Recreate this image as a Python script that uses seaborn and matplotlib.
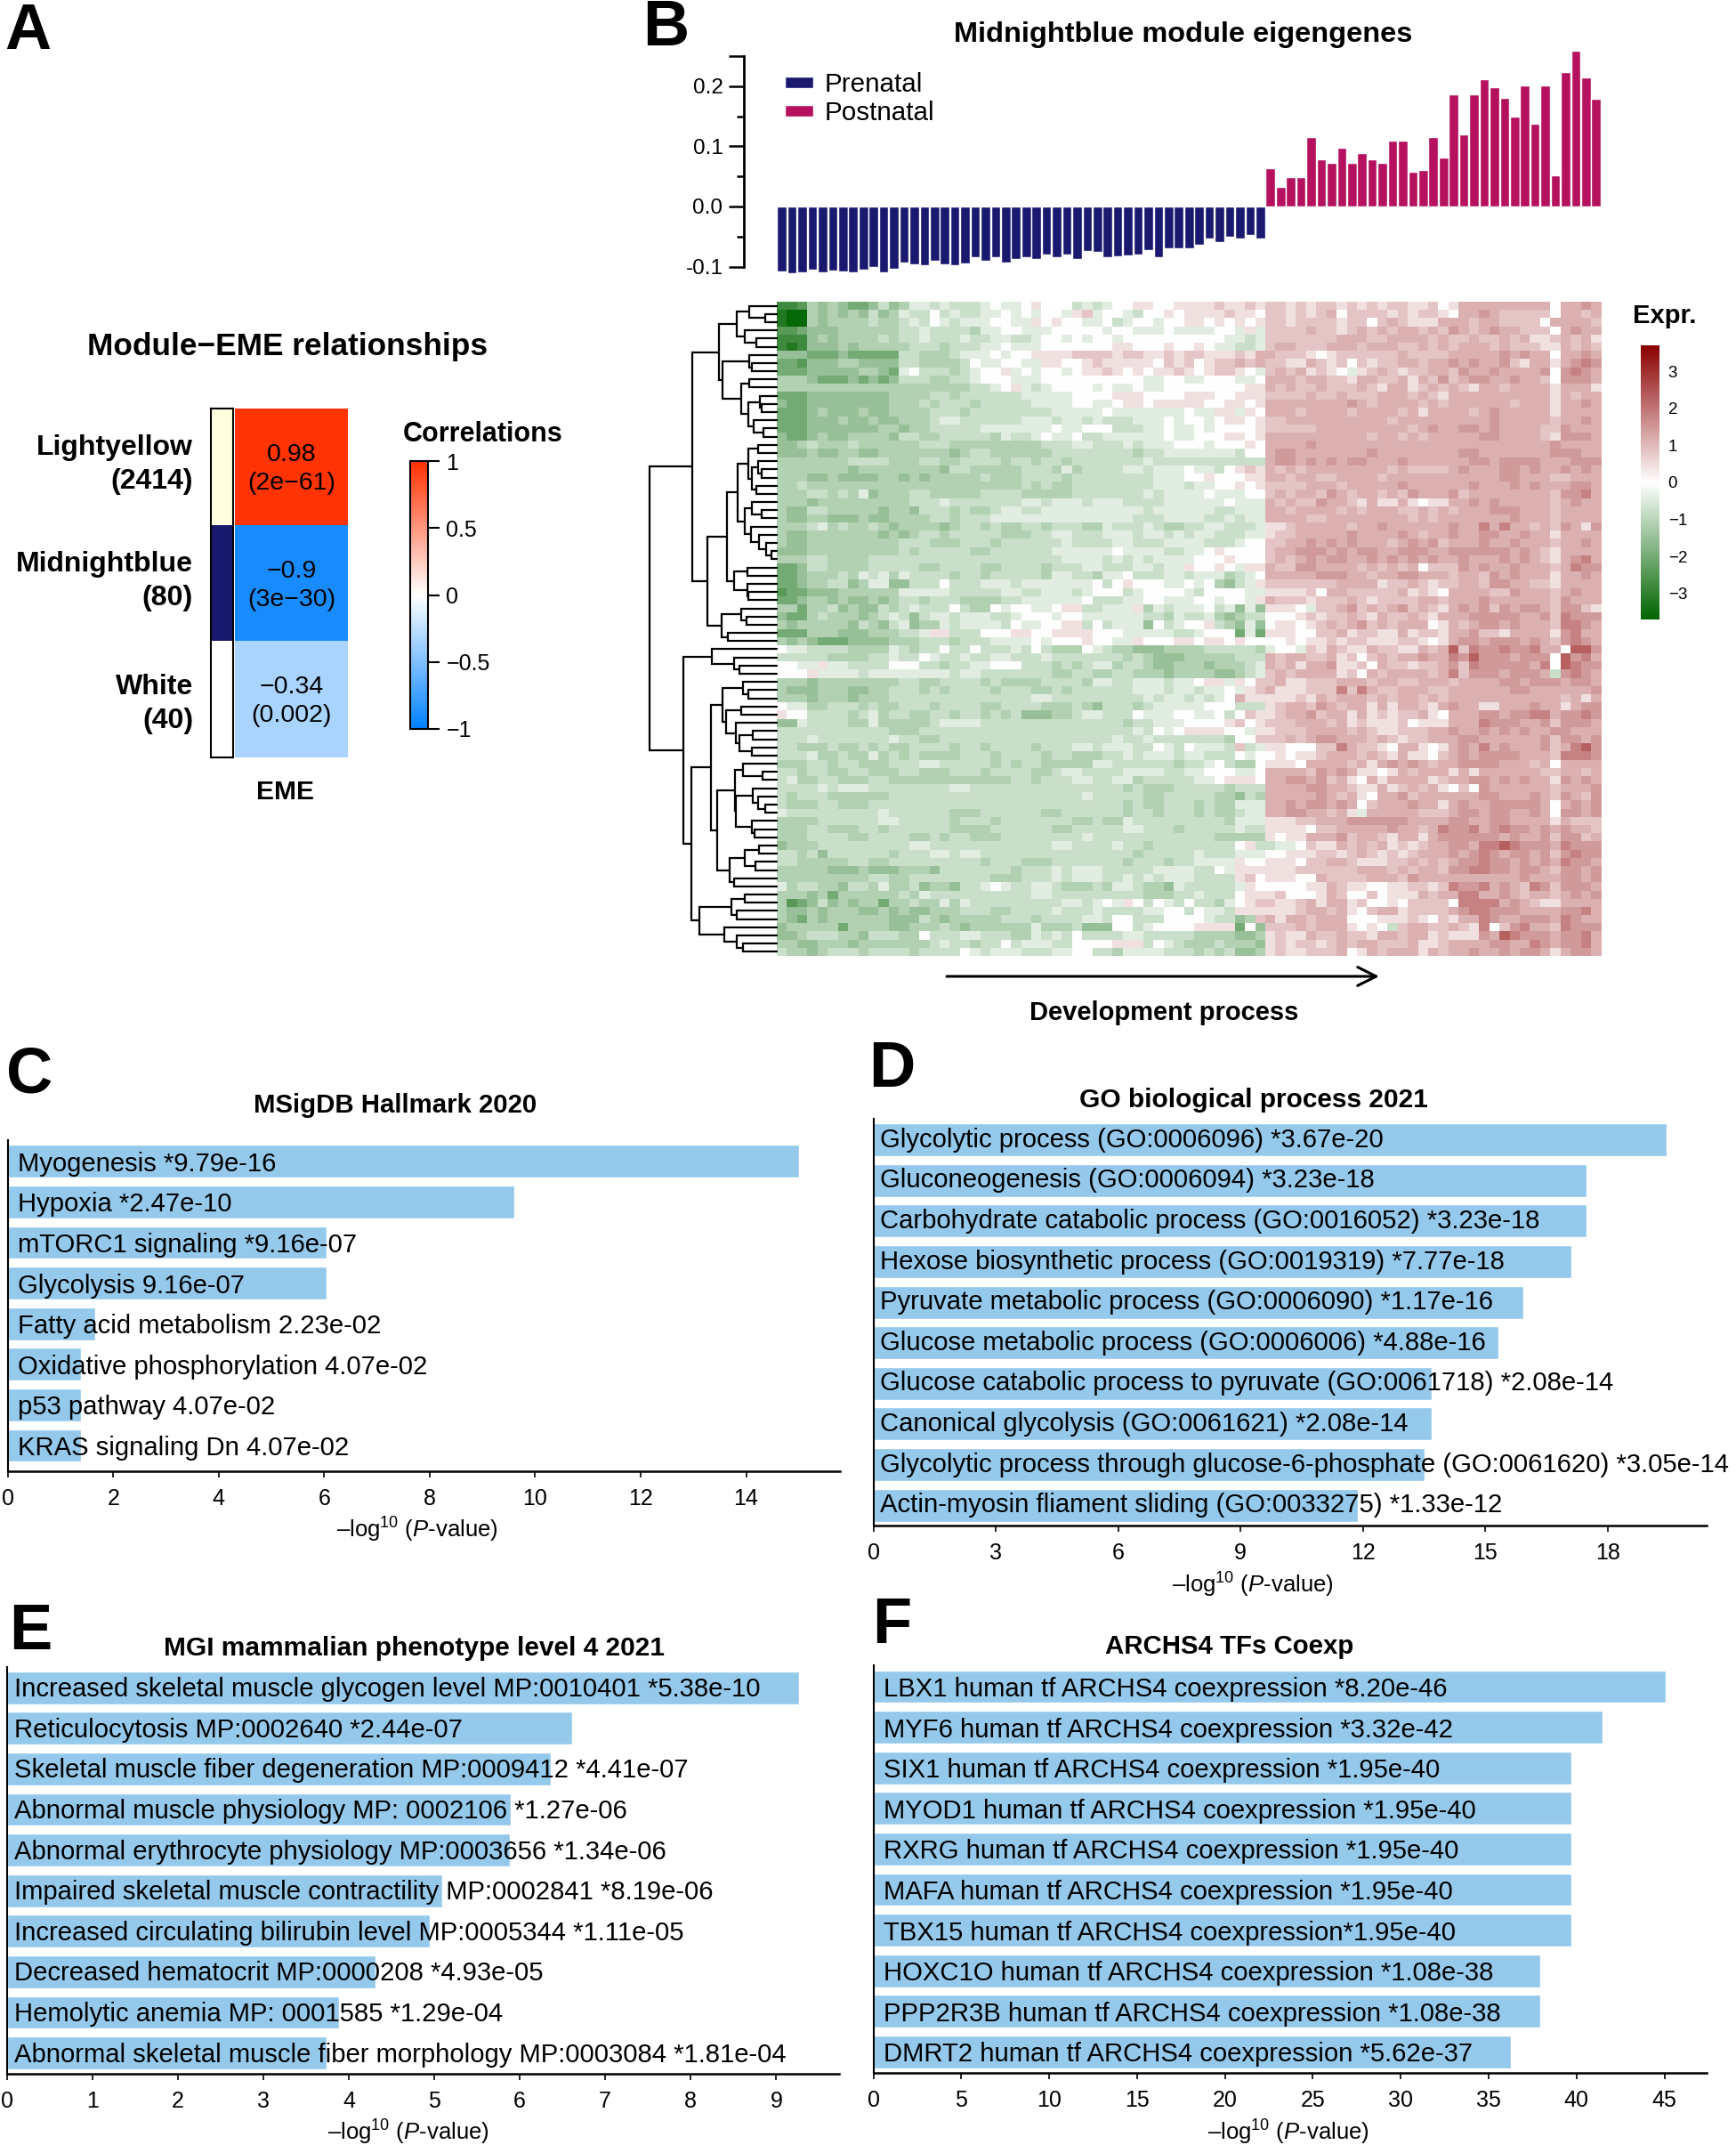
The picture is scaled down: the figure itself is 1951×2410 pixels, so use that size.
import numpy as np
import matplotlib
matplotlib.use('Agg')
import matplotlib.pyplot as plt
from matplotlib.colors import LinearSegmentedColormap, ListedColormap
import seaborn as sns

W, H = 1951, 2410

# Panel A
module_names = ['Lightyellow\n(2414)', 'Midnightblue\n(80)', 'White\n(40)']
module_colors = ['#FFFFE0', '#191970', '#FFFFFF']
eme_corr = [0.98, -0.9, -0.34]
eme_text = ['0.98\n(2e\u221261)', '\u22120.9\n(3e\u221230)', '\u22120.34\n(0.002)']
corr_ticks = [1, 0.5, 0, -0.5, -1]
corr_ticklabels = ['1', '0.5', '0', '\u22120.5', '\u22121']

# Panel B bars
prenatal = [-0.108, -0.111, -0.109, -0.105, -0.109, -0.106, -0.108, -0.109, -0.105, -0.101, -0.109, -0.104,
            -0.093, -0.096, -0.098, -0.090, -0.096, -0.098, -0.095, -0.085, -0.091, -0.084, -0.093, -0.087,
            -0.084, -0.087, -0.080, -0.084, -0.080, -0.088, -0.074, -0.076, -0.085, -0.083, -0.081, -0.080,
            -0.072, -0.084, -0.070, -0.069, -0.070, -0.064, -0.054, -0.059, -0.050, -0.054, -0.048, -0.053]
postnatal = [0.063, 0.032, 0.048, 0.048, 0.116, 0.079, 0.073, 0.097, 0.073, 0.089, 0.079, 0.072, 0.110, 0.110,
             0.058, 0.060, 0.116, 0.082, 0.186, 0.120, 0.186, 0.211, 0.198, 0.180, 0.150, 0.201, 0.137, 0.201,
             0.051, 0.224, 0.259, 0.214, 0.179]

# Panel B heatmap, one letter per cell, letter values in heat_levels
heat_codes = 'abcdefghijklmnopq'
heat_levels = [-3.6, -3.2, -2.8, -2.4, -2.0, -1.5, -1.1, -0.78, -0.42, 0.0, 0.45, 0.85, 1.15, 1.45, 1.8, 2.3, 2.8]
heat_rows = [
    'ccdgfgfee fhfgiihih hhijiijkj jjhihijjk kjjkkkklk klkllklkl lklklkllk kljkmmmmm mmmmjmmnm',
    'baagfgfgf hfgihhjhi hhiijijij jiklijjih jjkjkkkkl kkjllklkl mjllllklk llkjmmnml lllljmmlm',
    'baagfgggg hgghihjih iiijjiikj kjjiijhij jijjkkjkj kjkllklll lklljlmlk kkmmmlmml llljmmmml',
    'ddefffggg ggghhihhh hgiijjiii jjjjjijji iijiiiijj ikillllml lklmlmlmm lmlnmlmnm mllljmnmm',
    'cccfgfggg ghghhihhh ihhiihhij jijijjijj jjjjjjjji ihillllll lmmmllmmm mlmllmllm lmkklmlmk',
    'cbcfffgfg gggghhhgh hhiijiiij jjjjjjkkj jjkjjkjii hhilmmlll mmmlmmmll mlmlmmmlm lllkkmlml',
    'fffeeefee eeehhgggh iiijijjkk kkllllkll kklkllkkk lkmmlllkj kllllllml lllmmmmmn mnmmjmmnm',
    'eedfffggf fffhhgggg hjiijjiik kjjklkkkk kjlkljkll mlmllkkml kljlkllmm lmmnmnmmn lkmmkmnon',
    'eeefffffg gfeijhhhg hijjkijij jijkklkjk jkklkjkll kjilmlmkl kjiklmlkl lmmlnmmnm mmmnjnonm',
    'gggfeeefe fefhhhggh hijjjiiij jjjjjjjjj iijjiijjj iijmmmlmm llkmmllmk mlnlmnnmm nmmljnnnm',
    'ggggggggg ggggggggg ghhijkihi jjjjijiij iijjjjjjj jkkmlmllm lllmlkmmk lmlmlkmml mmmmkmmmk',
    'eeeffffff ffgggghhg hhhhhhiii iijjjjkkk jjjjkkkjj kkkllllml lmlllmmml mlkmmmmmm mmmmkmlmm',
    'feeffffff ffggghghh hghhhhhii iijjiijkk jkkkkkjjk kjkmmmmmm mmnmlmmmm lmlmmmmmm lmmmkmmnm',
    'eeefgfffg ffgggghhh ghhhhhhhh iiiiijiii iiiijiikk ikjmmmlmm mmlmmmmlm kmmmmlmnm mmmmkmmmm',
    'eeefffgff gffggghii hhhhhhiii hiihihhhi iijijjijk kjkllmmmm mmmmmmlmm mmmmmmmnm mmmmlmmnm',
    'eeeffffff fggfgghhh hhiiiiiii jiijjjhhh iijiijijj jjklllllm mmmmmmmml mnmmnnmnm mmmllnmmm',
    'feefgffgg ggfhhgghh hhhgihhij iijhhiiii iijiijjjk kjkmmmmmm mmmmlmmlm lmmmmmnnm mmmlknnnm',
    'ffghggghg ggggghhhg ggggggggh hhiihhhih iiijjjijj jkjmmmmnm mmmmmmmmm mmmmmmmmm mmmmnmmmm',
    'fffgffggf fgggggggf ghhgggggg hhhhhhhhg hhiiiiiii hjjmnnmmm mmmmnmmmm mmmmnnmmm mmmmnnnmm',
    'ggggggghh hhggghhgg hhhhghhgh hghhhhhhh ihhhhhhhh hhhmnnmnm nmnnmmmnm mmmmmnnmn nnnmmmnnn',
    'gggggggfg gggggggfh hggggghhh gighhhhii hiiijiihj klkmlmlmm mmmmmmlml lllmnmmmn nmnmmnmnm',
    'gggffgfff fggfgfggg gghggghhh hghhhhhhh hiiijjkjj jkkmmlmml lmmmmlmmm mmmmmmmmn nmmmllmmm',
    'gghgggggg ggggggggg gggggghgh gghhhhhhh hiiihiijj kjkllllmm mlmmmmmnm mmmmmnmmm nmnmmmnnm',
    'ggghhghgi fggghhggg gghhhhggg gghhhhhhh ihiiiijii ijjlmlmml nmlmmlmln mmmnlmmmm mmmmlnnom',
    'gggfggggg gggghhhih hhhhhhiih iiihiiihh hhiiiiiij iiimlmlln mmlkmkkmk jkkmmnmnm mmmmlmnmm',
    'gffhhgggg gfggfhhhg hgghiihhi iiiiiiiii hiiiiiihh iiimmlmmm mlmlmmmll mlmlmmmnn nmmmlmmmm',
    'gffggfffg ffgggghhg hhhiiiiii iiiiiiiih hhiiiihhi hiimmmmll mmmmmmmml mlmmmmmmm nmmmlmmmm',
    'ggghighgg hgfggggfg hhghgghhg hhhggihhh ihgghhiih hhikklmmm mmlmmnmmm mmmnmmomo mmlmlnmkn',
    'gffgggggg gfgfghhgh hhhhggghh iihhhiiih iihihiihh hiikllmmm mmnmmmmnm lmmnmmnnm mnmmkmmmm',
    'gffgggggg ggghhhggg hhhghhhhh hihhhhiih hhiiiihhh ijjllmmnm nmnmmmlmn mnlmmmnmm nmmmlmmnm',
    'fffgggggg ggghghhhh hgghhhhhh iiiiiijii iihhiijkj jjjlmmnnn mnmnnmmnn nmmnnnnnn mnmlkmmmm',
    'ggghhgggg hhhhhhhhh hhhhhhhhh hiiiihihi hiiiijjjk jjjlmlmnm nnmmnmnmn mnmmnmmmn mnmlkmnom',
    'eefhhgggg hhhhhgghh hhgghhhhg hhhiihhhi ihiikjjkj ikkmllnnm mmmlmlmlm jlllnmnmm nmmmlmonn',
    'eefggghgi higihhhhg hhghhhhhg iihhgiijh hhiihiiig hijmmmmmn nnmmlmmnn mmmlmmlnm nmmmkmmnm',
    'eefgghhfg iiffhhhjh hhiiihiii iiiijhjkj jjiijijgf hikllllll lmmmmkllm lkllmmlnn mmllkmmmm',
    'deefffggg gggiiiiih hhhhiihhi iihijjjhi jjjjihjjj jiikkkklj mmlllllmk lkjmmmmll nmmmlmnmm',
    'eefggfgff gfghhghhh gggghhiii iiijhhhii jjiiijjij jikmlllkl llmlkllll mmlmmmnmm mmmmlnmmm',
    'ggegghfgf fhghihhhj hggjijjii jkkhhiiik gihiiijhi fifkkkjil lmnlmlmnl mlkmnmnln mnnmlnnlk',
    'feeghgggf ghihfhiih iiihhijjj ijjiiiiii hhgihhigf ghhjjjklk llmlkmllm lkmmmnnnn nmmnlonnn',
    'gfgggggfh gfhifggih iiiihjiij jkkhjhiii fjhijjkhg fifjkkjkl mlmnlmlmm mjkmlmnnm nmmmloonm',
    'eeegggfff ggghhikkh hhjjjkkjj kkkkjjjii iiihhijjj eiekkkjjl lmkllkkmk llkmmnllk mmmmknomm',
    'gfgfeeeff ffggghhhg hhhiiiiji jjjkjjiik jjjkkjkkj kjjjjkjkk lkllkkkll kjkmnnmnn nmnmlnonm',
    'jiihhhhgg ggihghhjh hjhhhihjh gggjihggf ffgggghhh hhgijjilk mlkkmllkk mlmplonno nnommjppn',
    'hhhhhgggg hhihhjihh ihhiihhhi hhhhhhhgh gfffggggg hhhmlmmll mkljlmlmm nmmonpnnn mnnnjpnom',
    'jjiikiihh hhjjjhhgh hiijjjhhh ghghiighh gffgggfgg ghimlmkmm nkkljmllk llmnlonnn nnmojponn',
    'jjjkiiiih iiiiiiiih iihhhhhhh gghhgghhg ggfggggff ghilmlmmm mkljmlmmm mlmolnnnm nnnmhnonm',
    'gggfggggg ggghhgghh hhghggggh hhhgiihhi iihiijkki kjllmkkll lmmmlmmll mmmlmmmmn nmnnnmnnm',
    'gfffgggff gghhhghgh hhhghhhgg hghhhhhhi iihiihiij iklmkkkll lolomllmm mllmmmmmm nnmmmmmmn',
    'gggfgggfg gghhhhhhh hhhhhhhii hhhhhhhhh ihiihihij mkkkkklkm lmmmlmlmm lmlmmmmmm mmmmmlmkm',
    'jiigghhhg hgghhhghh hhgghhhhg gghgfhhhg hiiiiijjj hhhklmmln mlmmkmkmm lkmnmmkkm mmnmmkmnn',
    'kjjhhhhgh ighhgghhg hhghghfff gghiihhhj iiijjiijh jlkklmmnl mmkmklkll mkjmmmnnm nnoomnnon',
    'ffihhhhgg iggggghii iihhhhhhh hhhhhhhgh hiiijjjjk ljklllmmm lmklkkklj kkkmmmonn nmmnlnnnm',
    'hhhhhhhhh hhggghhhh hhhhhhhhh hhhhhhhhi hjijkkkkj jikklllmm mmlmlkkll lmmnmmnmn mnmmnnmmm',
    'hhhihhhhh hhihhgghh hhhhhhhhh hhhhhhihh ihhhhhhhg jjlllmlmn nmmmlmlkl lmmmnnmmm mmmnlnnmn',
    'hhggghggh ghgghhhhg hhghhhhgh hhiihiiih hjihjiiih lhikkjjjl lomllkjmm kjkmnmomn mmmnlmopn',
    'hhhigghgg ighghgggg hhhghhhhg hhggghhih iiihiihhh jijjkjkkl mmmlmlkmk kjlmnmnnn nmmmlooon',
    'ggghhghhg gghhhiihh hhhghghhg ggggiihhh hhhghhijh ggjkkkjmm mmlmkmnmn mlmmnnnnm mmlmjmmmm',
    'hhghhgghh ggghhgggh hhghhhhgg hiihhhhii iihhiijjj iijmmmmln mnmkkjkml mmmkmkmmm mmmllmmlm',
    'higghhggg hhggggggg ggggghhgh hhiihhiig hhhhhiijk kkjmmnnmn lmkjmkmmm mklmmnnmn mnmmknmnm',
    'hhhhihiii hhhhhhhhi ihhhhhhhh hhhhhhhgh ggghhhhhg hhhmmmmnn mmlkkmklm lmkjljnmm mmmmlmmmn',
    'hghhhgggg gghhhhhhh hhhhhhhhh hhhihhhhh gghhhhhgg fhgmmmmmn mlmkjmmnl mmmmmmnnm mmnmlnmln',
    'hggghhggg hhhhhhhhh hhhhhhhhh hhhhhhhgh gghhhghgg iiimmnmnn mnmjlmmmn mmkmnmmnn nnnmjmnmn',
    'ihhhhhhhh hihhhhhhg gghhhhhhg ghhhhhhgh hghhhghgg hiimmnnmm lmkimmmmm lllmnnmnn mmnmjnnmn',
    'gggghhhhh hiihhhhhg hhhghhhhh hhgghggih hhhhhhhhg iiikkkllm mmnnnnnnm mmmnnmmnn mmmmkmlll',
    'ggghhgggh hghhhhhhg ggghhhhhh gghhhhhii hhhghhhhh ihhkkkkjl lmmmmmnmm lmonnomno nnmnmnmml',
    'ggghhhhgg hhhhgghgh hggghhhhh hhhihhhhh hhhhhhhgg gggkjkkmm mnlmmlkmm kmnnnnnnm nmmnlnnlm',
    'fggghhhhh hhhhiihhh hhhhhhhhh iihhhhihh ghhhhhhhh jkhhiijlk kmlmlmklk lmmnnmoop onnnmonnn',
    'hhghfhhhh hhghhhiih iihhhhhhh hhhhhhhhg hhhhhihhh iiijjkkkl lklmlklkl mmmnmnonm nnmnlnonn',
    'hhggggghh gghhhhhhh hhghhhggg hhhhhhhgh hhghhiiii kjjkkkjll mmlkkkllm lmlmnnonn mnmnmonnm',
    'gggggfffg fffgggfhh hhhhhghhh ihiiihhhh hiiiihhji kkkkkklll lllmmmlml mmlnnoonn mnnmlnnmn',
    'ggggggggg hhgghhhhh hhhggghhh ihiiihhih ihiiihhhh kljkkkjjm llllmmmln mmmmmmmmm mnmmmnnmn',
    'ighhggfhh gigghfggf hhijihhii hggghgiih ggfihhhhh ikjjjjjkk mlkkjjkkl lklonnomn mlonlnnnm',
    'gggfgeggg ggghgihhh hhhhhhhii hhhhhhhhh ggghhihhh jkkkljjjk mljjljkkk mlmmoommn mlmmlmnmn',
    'gdefhfgfg gegghggig ihhhhhhhh hiihijikj hjihjhhgi jkllkklmk mmkljjkjl llljoooom nmlkkmmmm',
    'gffgfgggf fgfgffggg hhhgghhhh ihhhihhhh iijjhjiih kkkkkklmm lmkjlmmkl lllmnoonn nmmmmnnom',
    'gfegfgggg ggfffhgfg gggghhhgh hhhiihjjh hhjjjjihh fglmkmmlm mmjjjkkkl kjlkmmonm mnnnmonmm',
    'fgggggegg ggffggghg fggggggig gghfffjjh ijjjjkkkk ejflllmlm mmkjkjhlm mllmlkojl nommlonnn',
    'ffghhhggf hhhggjhhh iihhhggih ihjhhhhii hhhhhgggg ffgklkkml lmllkmmlm mklkkknmp onnnmnnom',
    'ggffgggfg gggggghih hghhjhiii hhjjjjkkk hjihggghg ggfklkllk lmlmmlllm kklmmmmnn mmonmnnom',
    'hggfghhhg hhhhghhhh jihiiihhh iijjhhgii iihhhghgh ffgklkkll lmjkmlmmm kmlmmnmmn mnnmkmnnm',
]
expr_ticks = [3, 2, 1, 0, -1, -2, -3]
expr_ticklabels = ['3', '2', '1', '0', '\u22121', '\u22122', '\u22123']

# Row tree of panel B: [height, upper, lower], L is one row
L = 0
tree_top = [240,
            [165,
             [114, [79, L, [34, L, L]], [90, L, [57, L, L]]],
             [154,
              [79, L, [72, L, L]],
              [102, [79, L, L], [82, [47, L, [44, L, L]], [67, L, [37, L, L]]]]]],
            [197,
             [142,
              [112,
               [82, [52, L, L], [70, [54, L, [44, L, L]], [57, L, L]]],
               [92, [70, L, [44, L, L]], [74, L, [50, L, [30, L, [14, L, L]]]]]],
              [122, [84, L, L], [84, L, [82, L, L]]]],
             [157, [100, L, [87, L, L]], [139, L, L]]]]
tree_bottom = [267,
               [184, L, [122, L, [107, L, L]]],
               [244,
                [187,
                 [155,
                  [95, L, [82, L, L]],
                  [144, [102, L, L], [117, L, [107, [69, L, L], [72, L, L]]]]],
                 [169,
                  [120,
                   [97, L, [40, L, L]],
                   [117, [69, L, [52, L, [32, L, L]]], [72, L, [64, L, L]]]],
                  [135, [92, [50, L, L], [62, L, L]], [122, L, L]]]],
                [220,
                 [129, [90, L, L], [115, L, L]],
                 [150, L, [115, L, [95, L, L]]]]]]
row_tree = [362, tree_top, tree_bottom]

# Enrichment panels
hallmark_terms = ['Myogenesis *9.79e-16', 'Hypoxia *2.47e-10', 'mTORC1 signaling *9.16e-07', 'Glycolysis 9.16e-07',
                  'Fatty acid metabolism 2.23e-02', 'Oxidative phosphorylation 4.07e-02', 'p53 pathway 4.07e-02',
                  'KRAS signaling Dn 4.07e-02']
hallmark_vals = [15.01, 9.61, 6.04, 6.04, 1.65, 1.39, 1.39, 1.39]
go_terms = ['Glycolytic process (GO:0006096) *3.67e-20', 'Gluconeogenesis (GO:0006094) *3.23e-18',
            'Carbohydrate catabolic process (GO:0016052) *3.23e-18', 'Hexose biosynthetic process (GO:0019319) *7.77e-18',
            'Pyruvate metabolic process (GO:0006090) *1.17e-16', 'Glucose metabolic process (GO:0006006) *4.88e-16',
            'Glucose catabolic process to pyruvate (GO:0061718) *2.08e-14', 'Canonical glycolysis (GO:0061621) *2.08e-14',
            'Glycolytic process through glucose-6-phosphate (GO:0061620) *3.05e-14',
            'Actin-myosin fliament sliding (GO:0033275) *1.33e-12']
go_vals = [19.45, 17.49, 17.49, 17.12, 15.93, 15.32, 13.68, 13.68, 13.52, 11.88]
mgi_terms = ['Increased skeletal muscle glycogen level MP:0010401 *5.38e-10', 'Reticulocytosis MP:0002640 *2.44e-07',
             'Skeletal muscle fiber degeneration MP:0009412 *4.41e-07', 'Abnormal muscle physiology MP: 0002106 *1.27e-06',
             'Abnormal erythrocyte physiology MP:0003656 *1.34e-06', 'Impaired skeletal muscle contractility MP:0002841 *8.19e-06',
             'Increased circulating bilirubin level MP:0005344 *1.11e-05', 'Decreased hematocrit MP:0000208 *4.93e-05',
             'Hemolytic anemia MP: 0001585 *1.29e-04', 'Abnormal skeletal muscle fiber morphology MP:0003084 *1.81e-04']
mgi_vals = [9.27, 6.61, 6.36, 5.90, 5.88, 5.09, 4.95, 4.31, 3.89, 3.74]
tf_terms = ['LBX1 human tf ARCHS4 coexpression *8.20e-46', 'MYF6 human tf ARCHS4 coexpression *3.32e-42',
            'SIX1 human tf ARCHS4 coexpression *1.95e-40', 'MYOD1 human tf ARCHS4 coexpression *1.95e-40',
            'RXRG human tf ARCHS4 coexpression *1.95e-40', 'MAFA human tf ARCHS4 coexpression *1.95e-40',
            'TBX15 human tf ARCHS4 coexpression*1.95e-40', 'HOXC1O human tf ARCHS4 coexpression *1.08e-38',
            'PPP2R3B human tf ARCHS4 coexpression *1.08e-38', 'DMRT2 human tf ARCHS4 coexpression *5.62e-37']
tf_vals = [45.09, 41.48, 39.72, 39.72, 39.72, 39.72, 39.72, 37.96, 37.96, 36.26]

sns.set_theme(style='white')
plt.rcParams['font.family'] = ['Liberation Sans', 'DejaVu Sans']
plt.rcParams['mathtext.fontset'] = 'custom'
plt.rcParams['mathtext.rm'] = 'Liberation Sans'
plt.rcParams['mathtext.it'] = 'Liberation Sans:italic'
plt.rcParams['text.color'] = 'black'
plt.rcParams['xtick.color'] = 'black'
plt.rcParams['ytick.color'] = 'black'
plt.rcParams['axes.edgecolor'] = 'black'

fig = plt.figure(figsize=(W / 100, H / 100), dpi=100)


def axes_px(x0, y0, x1, y1):
    return fig.add_axes([x0 / W, 1 - y1 / H, (x1 - x0) / W, (y1 - y0) / H])


# ---- A
ax = axes_px(237, 459, 261.5, 851)
sns.heatmap(np.arange(3).reshape(3, 1), cmap=ListedColormap(module_colors), cbar=False,
            xticklabels=False, yticklabels=False, ax=ax)
for s in ax.spines.values():
    s.set_visible(True)
    s.set_linewidth(1.5)

corr_cmap = LinearSegmentedColormap.from_list('corr', ['#0080FF', '#FFFFFF', '#FF3000'])
ax = axes_px(264, 459, 391, 851)
cax = axes_px(461, 518, 480.5, 819)
sns.heatmap(np.array(eme_corr).reshape(3, 1), cmap=corr_cmap, vmin=-1, vmax=1,
            annot=np.array(eme_text).reshape(3, 1), fmt='',
            annot_kws={'size': 20.5, 'color': 'black', 'linespacing': 1.3},
            xticklabels=False, yticklabels=False, ax=ax, cbar_ax=cax, cbar_kws={'ticks': corr_ticks})
for t in ax.texts:
    tx, ty = t.get_position()
    t.set_position((tx, ty + 0.02))
cax.set_yticklabels(corr_ticklabels)
cax.tick_params(axis='y', right=True, length=9, width=1.5, pad=6, labelsize=18)
ax.collections[0].colorbar.outline.set_linewidth(1.5)

# ---- B bars
bar_vals = prenatal + postnatal
bar_group = ['Prenatal'] * len(prenatal) + ['Postnatal'] * len(postnatal)
ax = axes_px(836, 63, 1799.5, 299.5)
sns.barplot(x=list(range(len(bar_vals))), y=bar_vals, hue=bar_group, dodge=False, width=0.93, saturation=1,
            palette={'Prenatal': '#191970', 'Postnatal': '#B5115F'}, ax=ax)
for p in ax.patches:
    p.set_clip_on(False)
ax.set_xlim(-3.734, 80.5)
ax.set_ylim(-0.1, 0.25)
ax.set_xticks([])
ax.set_yticks([-0.1, 0, 0.1, 0.2, 0.25], ['-0.1', '0.0', '0.1', '0.2', ''])
ax.set_yticks([-0.05, 0.05, 0.15], minor=True)
ax.tick_params(axis='y', which='major', left=True, length=12, width=1.8, pad=5, labelsize=17.5)
ax.tick_params(axis='y', which='minor', left=True, length=6, width=1.8)
for s in ['top', 'right', 'bottom']:
    ax.spines[s].set_visible(False)
ax.spines['left'].set_linewidth(2)
sns.move_legend(ax, 'upper left', bbox_to_anchor=(0.048, 0.925), frameon=False, title=None, fontsize=21.3,
                handlelength=1.08, handleheight=0.3, handletextpad=0.42, labelspacing=0.14, borderaxespad=0, borderpad=0)

# ---- B heatmap
heat_vals = np.array([[heat_levels[heat_codes.index(c)] for c in r.replace(' ', '')] for r in heat_rows])
expr_cmap = LinearSegmentedColormap.from_list('expr', ['#006400', '#FFFFFF', '#8B0000'])
ax = axes_px(873, 339, 1799.5, 1074)
cax = axes_px(1844, 388, 1865, 696)
sns.heatmap(heat_vals, cmap=expr_cmap, vmin=-3.7, vmax=3.7, xticklabels=False, yticklabels=False,
            ax=ax, cbar_ax=cax, cbar_kws={'ticks': expr_ticks})
cax.set_yticklabels(expr_ticklabels)
cax.tick_params(axis='y', length=0, pad=7, labelsize=13.5)

# ---- B dendrogram
ax = axes_px(730, 339, 873, 1074)
ax.set_xlim(row_tree[0], 0)
ax.set_ylim(len(heat_rows), 0)
ax.axis('off')
next_row = [0]


def draw_tree(node):
    if node == L:
        next_row[0] += 1
        return next_row[0] - 0.5, 0
    y1, h1 = draw_tree(node[1])
    y2, h2 = draw_tree(node[2])
    ax.plot([h1, node[0], node[0], h2], [y1, y1, y2, y2], color='black', lw=1.6,
            solid_joinstyle='miter', clip_on=False)
    return (y1 + y2) / 2, node[0]


root_y, root_h = draw_tree(row_tree)


# ---- C to F
def enrich_panel(x0, x1, y0, y1, first, terms, vals, xmax, ticks, text_x, text_dy=0):
    pitch = 45.6
    ax = axes_px(x0, y0, x1, y1)
    sns.barplot(x=vals, y=terms, orient='h', color='#94C9EC', saturation=1, width=0.81, ax=ax)
    ax.set_xlim(0, xmax)
    ax.set_ylim((y1 - first) / pitch, (y0 - first) / pitch)
    ax.set_yticks([])
    ax.set_ylabel('')
    ax.set_xticks(ticks)
    ax.tick_params(axis='x', bottom=True, length=5, width=1.2, pad=9, labelsize=18)
    ax.spines['top'].set_visible(False)
    ax.spines['right'].set_visible(False)
    ax.spines['left'].set_linewidth(1.5)
    ax.spines['bottom'].set_linewidth(1.8)
    for i, term in enumerate(terms):
        ax.annotate(term, (0, i), xytext=((text_x - x0) * 0.72, -text_dy * 0.72), textcoords='offset points',
                    va='center_baseline', fontsize=21.1, annotation_clip=False)


enrich_panel(8.75, 944, 1281, 1653, 1304.8, hallmark_terms, hallmark_vals, 15.78, range(0, 15, 2), 20.5)
enrich_panel(981.5, 1918, 1257, 1713.7, 1280.7, go_terms, go_vals, 20.43, range(0, 19, 3), 989, -3)
enrich_panel(7.5, 942.5, 1873, 2329.7, 1896.2, mgi_terms, mgi_vals, 9.73, range(0, 10), 16, -1)
enrich_panel(981.5, 1918, 1871, 2328.6, 1895, tf_terms, tf_vals, 47.4, range(0, 46, 5), 993)

# ---- free text, in picture pixels
ov = fig.add_axes([0, 0, 1, 1], facecolor='none')
ov.set_xlim(0, W)
ov.set_ylim(H, 0)
ov.axis('off')

for letter, x, y in [('A', 5, 36), ('B', 722, 32), ('C', 7, 1209), ('D', 976, 1202), ('E', 10, 1834), ('F', 980, 1827)]:
    ov.text(x, y, letter, fontsize=52, fontweight='bold', va='center', ha='left')

bold_titles = [('Module\u2212EME relationships', 323, 390, 25.4), ('Correlations', 543, 488, 22), ('EME', 321, 890, 21.6),
               ('Midnightblue module eigengenes', 1330, 39, 23.4), ('Expr.', 1871, 355, 21),
               ('Development process', 1308, 1138, 21), ('MSigDB Hallmark 2020', 444, 1242, 21.2),
               ('GO biological process 2021', 1409, 1236, 21.5), ('MGI mammalian phenotype level 4 2021', 466, 1852, 21.5),
               ('ARCHS4 TFs Coexp', 1382, 1850, 21.2)]
for txt, x, y, size in bold_titles:
    ov.text(x, y, txt, fontsize=size, fontweight='bold', ha='center', va='center')

for name, y in zip(module_names, [522, 653, 791]):
    ov.text(217, y, name, fontsize=23, fontweight='bold', ha='right', va='center', linespacing=1.34)

xlabel = '\u2013log$^{10}$ ($\\mathit{P}$-value)'
for x, y in [(469, 1719), (1407.5, 1781), (459, 2396), (1448, 2396)]:
    ov.text(x, y, xlabel, fontsize=18.5, ha='center', va='center')

ov.annotate('', xy=(1550, 1097), xytext=(1064, 1097),
            arrowprops=dict(arrowstyle='->,head_length=1,head_width=0.5', mutation_scale=15, lw=2.2, color='black',
                            shrinkA=0, shrinkB=0))

fig.savefig('out.png', dpi=100)
